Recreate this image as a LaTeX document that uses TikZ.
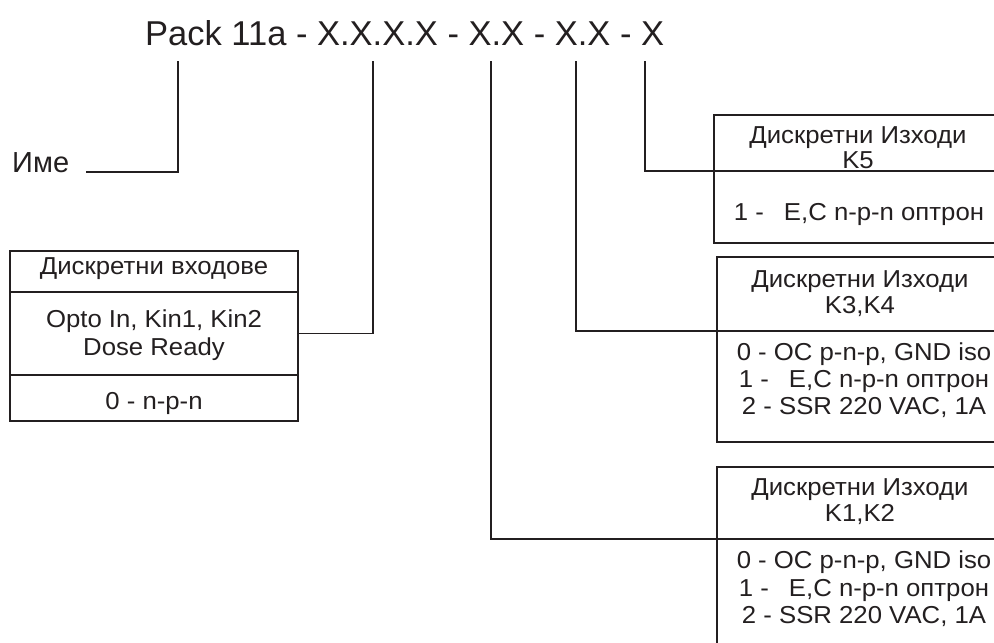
\documentclass[tikz,border=0pt]{standalone}
\usepackage{fontspec}
\setmainfont{Liberation Sans}
\newfontfamily\boxfont[FakeStretch=1.05]{Liberation Sans}
\definecolor{ink}{RGB}{35,31,32}
\begin{document}
\begin{tikzpicture}[x=1pt,y=-1pt,
  frame/.style={draw=ink, line width=1.8pt, rectangle, inner sep=0pt, outer sep=0pt, anchor=north west},
  wire/.style={draw=ink, line width=1.8pt},
  lbl/.style={text=ink, inner sep=0pt, anchor=base, font=\boxfont\fontsize{24.5}{29}\selectfont},
  headline/.style={text=ink, inner sep=0pt, anchor=base west, font=\fontsize{34.5}{40}\selectfont},
  namelbl/.style={text=ink, inner sep=0pt, anchor=base west, font=\fontsize{29}{34}\selectfont}
]
\useasboundingbox (0,0) rectangle (994,643);
\begin{scope}
\clip (0,0) rectangle (994,643);

% part number
\node[headline] (title) at (145,45) {Pack 11a - X.X.X.X - X.X - X.X - X};

% tap points under the part number
\coordinate (t1) at (178,61);
\coordinate (t2) at (373,61);
\coordinate (t3) at (491,61);
\coordinate (t4) at (576,61);
\coordinate (t5) at (645,61);

% name field
\node[namelbl] (ime) at (12,172) {Име};
\coordinate (imeend) at (86,172);

% discrete inputs
\node[frame, minimum width=288, minimum height=41] (inhead) at (10,251) {};
\node[frame, minimum width=288, minimum height=83] (inmid) at (10,292) {};
\node[frame, minimum width=288, minimum height=46] (infoot) at (10,375) {};
\node[lbl] (in1) at (154,274) {Дискретни входове};
\node[lbl] (in2) at (154,327) {Opto In, Kin1, Kin2};
\node[lbl] (in3) at (154,355) {Dose Ready};
\node[lbl] (in4) at (154,409) {0 - n-p-n};

% discrete output K5
\node[frame, minimum width=288, minimum height=56] (k5head) at (714,115) {};
\node[frame, minimum width=288, minimum height=72] (k5body) at (714,171) {};
\node[lbl] (k5a) at (858,143) {Дискретни Изходи};
\node[lbl] (k5b) at (858,168) {K5};
\node[lbl] (k5c) at (859,220) {1 -\hspace{20pt}E,C n-p-n оптрон};

% discrete outputs K3,K4
\node[frame, minimum width=285, minimum height=74] (k34head) at (717,257) {};
\node[frame, minimum width=285, minimum height=111] (k34body) at (717,331) {};
\node[lbl] (k34a) at (860,287) {Дискретни Изходи};
\node[lbl] (k34b) at (860,313) {K3,K4};
\node[lbl] (k34c) at (864,360) {0 - OC p-n-p, GND iso};
\node[lbl] (k34d) at (864,387) {1 -\hspace{20pt}E,C n-p-n оптрон};
\node[lbl] (k34e) at (864,414) {2 - SSR 220 VAC, 1A};

% discrete outputs K1,K2
\node[frame, minimum width=285, minimum height=72] (k12head) at (717,467) {};
\node[frame, minimum width=285, minimum height=161] (k12body) at (717,539) {};
\node[lbl] (k12a) at (860,495) {Дискретни Изходи};
\node[lbl] (k12b) at (860,521) {K1,K2};
\node[lbl] (k12c) at (864,568) {0 - OC p-n-p, GND iso};
\node[lbl] (k12d) at (864,596) {1 -\hspace{20pt}E,C n-p-n оптрон};
\node[lbl] (k12e) at (864,623) {2 - SSR 220 VAC, 1A};

% leader lines
\draw[wire] (t1) |- (imeend);
\draw[wire] (t2) |- (inmid.east);
\draw[wire] (t3) |- (k12body.north west);
\draw[wire] (t4) |- (k34body.north west);
\draw[wire] (t5) |- (k5body.north west);
\end{scope}
\end{tikzpicture}
\end{document}
